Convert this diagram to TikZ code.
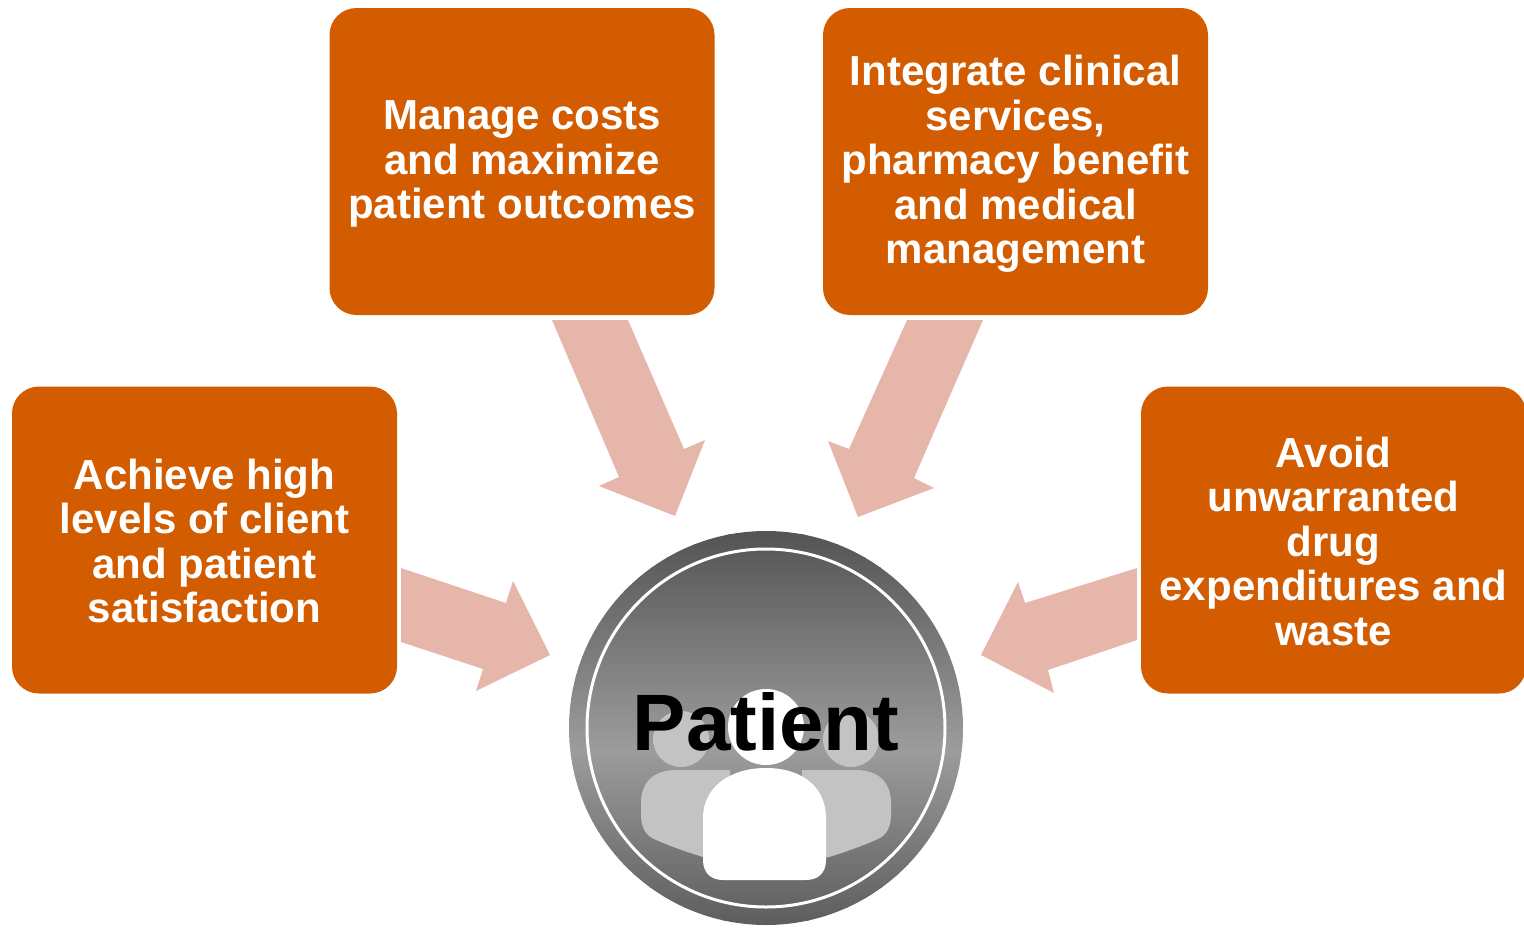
\documentclass[tikz,border=0pt]{standalone}
\usepackage{fontspec}
\setmainfont{Liberation Sans}
\definecolor{boxorange}{HTML}{D35C00}
\definecolor{arrowpink}{HTML}{E6B6AB}
\definecolor{figgray}{HTML}{C3C3C3}
\definecolor{gtop}{HTML}{545454}
\definecolor{gmid}{HTML}{9C9C9C}
\definecolor{gbot}{HTML}{5C5C5C}
\newcommand{\goaltext}[2]{\raisebox{0pt}[\dimexpr\height+#1\relax][\depth]{\parbox{380pt}{\centering #2}}}
\begin{document}
\begin{tikzpicture}[x=1pt,y=-1pt,
  goal/.style={rectangle, rounded corners=27pt, fill=boxorange, text=white,
    font=\bfseries\fontsize{42}{44.5}\selectfont, align=center, inner sep=0pt,
    minimum width=385pt, minimum height=307pt},
  blockarrow/.style={fill=arrowpink},
  figside/.style={fill=figgray},
  figmain/.style={fill=white}]
\useasboundingbox (0,0) rectangle (1524,927);

% goal boxes
\node[goal] (cost) at (522,161.5) {\goaltext{5pt}{Manage costs\\and maximize\\patient outcomes}};
\node[goal] (integ) at (1015.5,161.5) {\goaltext{5pt}{Integrate clinical\\services,\\pharmacy benefit\\and medical\\management}};
\node[goal] (satis) at (204.5,540) {\goaltext{2pt}{Achieve high\\levels of client\\and patient\\satisfaction}};
\node[goal] (waste) at (1333.5,540) {\goaltext{2pt}{Avoid\\unwarranted\\drug\\expenditures and\\waste}};

% block arrows
\fill[blockarrow] (552,320) -- (628,320) -- (684,449) -- (705,440) -- (675,516) -- (599,486) -- (619,477) -- cycle;
\fill[blockarrow] (907,320) -- (983,320) -- (914,478) -- (934,488) -- (858,517) -- (828,441) -- (849,449) -- cycle;
\fill[blockarrow] (401,568) -- (506,603) -- (513,581) -- (550,655) -- (476,691) -- (483,669) -- (401,642) -- cycle;
\fill[blockarrow] (1137,568) -- (1025,603) -- (1018,582) -- (981,655) -- (1054,693) -- (1048,670) -- (1137,640) -- cycle;

% patient disk with vertical gradient built from thin bands
\node[circle, minimum size=394pt, inner sep=0pt] (hub) at (766,728) {};
\begin{scope}
  \clip (hub.center) circle[radius=197];
  \foreach \i in {0,...,119} {
    \pgfmathsetmacro{\ya}{531+\i*3.3}
    \pgfmathsetmacro{\yb}{\ya+3.6}
    \ifnum\i<66
      \pgfmathtruncatemacro{\p}{100*(\i+0.5)/66}
      \fill[gmid!\p!gtop] (560,\ya) rectangle (972,\yb);
    \else
      \pgfmathtruncatemacro{\p}{100*(\i-65.5)/54}
      \fill[gbot!\p!gmid] (560,\ya) rectangle (972,\yb);
    \fi
  }
\end{scope}
\draw[white, line width=3pt] (hub.center) circle[radius=179];

% side figures
\fill[figside] (681,739) circle[radius=28];
\fill[figside] (851,739) circle[radius=28];
\fill[figside] (641,815) -- (641,803) .. controls (641,782) and (654,770) .. (676,770)
  -- (730,770) -- (730,862) -- (703,857) .. controls (680,850) and (660,842) .. (652,838)
  .. controls (645,834) and (641,826) .. (641,815) -- cycle;
\fill[figside] (891,815) -- (891,803) .. controls (891,782) and (878,770) .. (856,770)
  -- (802,770) -- (802,862) -- (829,857) .. controls (852,850) and (872,842) .. (880,838)
  .. controls (887,834) and (891,826) .. (891,815) -- cycle;

% central figure
\fill[figmain] (766,727) circle[radius=38];
\fill[figmain] (703,860) -- (703,818) .. controls (703,787) and (730,768) .. (766,768)
  .. controls (802,768) and (826,787) .. (826,818) -- (826,860)
  .. controls (826,873) and (818,880) .. (806,880) -- (723,880)
  .. controls (711,880) and (703,873) .. (703,860) -- cycle;

\node[anchor=base, inner sep=0pt, font=\bfseries\fontsize{80}{80}\selectfont] (patient) at (766,750) {Patient};
\end{tikzpicture}
\end{document}
